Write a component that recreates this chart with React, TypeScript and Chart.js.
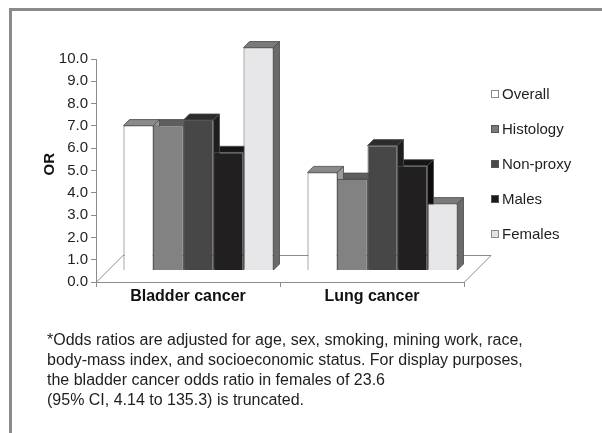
import React, { useEffect, useRef } from "react";
import { Chart, registerables } from "chart.js";

Chart.register(...registerables);

const categories = ["Bladder cancer", "Lung cancer"];
const seriesNames = ["Overall", "Histology", "Non-proxy", "Males", "Females"];
const overall = [6.5, 4.4];
const histology = [6.5, 4.1];
const nonProxy = [6.75, 5.6];
const males = [5.3, 4.7];
const females = [10.0, 3.0];
const seriesValues = [overall, histology, nonProxy, males, females];

const frontColors = ["#ffffff", "#828282", "#474747", "#221f20", "#e7e7e9"];
const topColors = ["#8a8a8a", "#5e5e5e", "#2c2c2c", "#151515", "#7a7a7a"];
const sideColors = ["#9a9a9a", "#5a5a5a", "#1e1e1e", "#0d0d0d", "#6a6a6a"];
const legendBoxColors = ["#ffffff", "#7a7a7a", "#4a4a4a", "#1a1a1a", "#e2e2e4"];

const footnoteLines = [
  "*Odds ratios are adjusted for age, sex, smoking, mining work, race,",
  "body-mass index, and socioeconomic status. For display purposes,",
  "the bladder cancer odds ratio in females of 23.6",
  "(95% CI, 4.14 to 135.3) is truncated.",
];

const FONT = "'Liberation Sans', Arial, Helvetica, sans-serif";
const DEPTH = 6;
const SHIFT_X = 10.5;
const SHIFT_Y = -11.5;
const FLOOR = 27;
const AXIS_COLOR = "#8c8c8c";

const threeD = {
  id: "threeD",
  beforeDatasetsDraw(chart: any) {
    const { ctx, chartArea: a } = chart;
    // floor
    ctx.save();
    ctx.strokeStyle = AXIS_COLOR;
    ctx.lineWidth = 1;
    ctx.beginPath();
    ctx.moveTo(a.left, a.bottom + 0.5);
    ctx.lineTo(a.right, a.bottom + 0.5);
    ctx.lineTo(a.right + FLOOR, a.bottom - FLOOR + 0.5);
    ctx.lineTo(a.left + FLOOR, a.bottom - FLOOR + 0.5);
    ctx.closePath();
    ctx.stroke();
    ctx.restore();

    ctx.save();
    ctx.translate(SHIFT_X, SHIFT_Y);
    const bars: any[] = [];
    chart.data.datasets.forEach((_: any, i: number) => {
      const meta = chart.getDatasetMeta(i);
      meta.data.forEach((el: any) => {
        const p = el.getProps(["x", "y", "base", "width"], true);
        bars.push({ ...p, i });
      });
    });
    ctx.lineWidth = 0.8;
    ctx.strokeStyle = "#4a4a4a";
    // top faces
    bars.forEach((b) => {
      const x0 = b.x - b.width / 2;
      const x1 = b.x + b.width / 2;
      ctx.beginPath();
      ctx.moveTo(x0, b.y);
      ctx.lineTo(x1, b.y);
      ctx.lineTo(x1 + DEPTH, b.y - DEPTH);
      ctx.lineTo(x0 + DEPTH, b.y - DEPTH);
      ctx.closePath();
      ctx.fillStyle = topColors[b.i];
      ctx.fill();
      ctx.stroke();
    });
    // side faces
    bars.forEach((b) => {
      const x1 = b.x + b.width / 2;
      ctx.beginPath();
      ctx.moveTo(x1, b.y);
      ctx.lineTo(x1 + DEPTH, b.y - DEPTH);
      ctx.lineTo(x1 + DEPTH, b.base - DEPTH);
      ctx.lineTo(x1, b.base);
      ctx.closePath();
      ctx.fillStyle = sideColors[b.i];
      ctx.fill();
      ctx.stroke();
    });
  },
  afterDatasetsDraw(chart: any) {
    chart.ctx.restore();
  },
};

const legendPlugin = {
  id: "customLegend",
  afterDraw(chart: any) {
    const { ctx } = chart;
    const boxX = 491;
    const textX = 502;
    const startY = 94;
    const step = 35;
    ctx.save();
    ctx.font = `15px ${FONT}`;
    ctx.textBaseline = "middle";
    ctx.textAlign = "left";
    chart.data.datasets.forEach((ds: any, i: number) => {
      const cy = startY + i * step;
      ctx.fillStyle = legendBoxColors[i];
      ctx.fillRect(boxX, cy - 4, 8, 8);
      ctx.strokeStyle = i === 0 || i === 4 ? "#8a8a8a" : "#555555";
      ctx.lineWidth = 1;
      ctx.strokeRect(boxX + 0.5, cy - 3.5, 7, 7);
      ctx.fillStyle = "#1e1e1e";
      ctx.fillText(ds.label, textX, cy + 1);
    });
    ctx.restore();
  },
};

export default function App() {
  const canvasRef = useRef<HTMLCanvasElement | null>(null);

  useEffect(() => {
    if (!canvasRef.current) return;
    const chart = new Chart(canvasRef.current, {
      type: "bar",
      data: {
        labels: categories,
        datasets: seriesNames.map((name, i) => ({
          label: name,
          data: seriesValues[i],
          backgroundColor: frontColors[i],
          borderColor: "#555555",
          borderWidth: 1,
          categoryPercentage: 150 / 184,
          barPercentage: 1,
          clip: false as any,
        })),
      },
      options: {
        responsive: false,
        devicePixelRatio: 1,
        animation: false,
        layout: { padding: { left: 41, top: 59, right: 138, bottom: 0 } },
        plugins: {
          legend: { display: false },
          tooltip: { enabled: false },
        },
        scales: {
          x: {
            offset: true,
            afterFit: (s: any) => {
              s.height = 151;
            },
            grid: {
              offset: true,
              drawOnChartArea: false,
              drawTicks: true,
              tickLength: 5,
              color: AXIS_COLOR,
            },
            border: { display: true, color: AXIS_COLOR },
            ticks: {
              padding: 0,
              color: "#111111",
              font: { family: FONT, size: 16, weight: "bold" },
            },
          },
          y: {
            min: 0,
            max: 10,
            afterFit: (s: any) => {
              s.width = 55;
            },
            grid: {
              drawOnChartArea: false,
              drawTicks: true,
              tickLength: 5,
              color: AXIS_COLOR,
            },
            border: { display: true, color: AXIS_COLOR },
            ticks: {
              stepSize: 1,
              padding: 3,
              color: "#1e1e1e",
              font: { family: FONT, size: 15 },
              callback: (v: any) => Number(v).toFixed(1),
            },
            title: {
              display: true,
              text: "   OR",
              color: "#111111",
              padding: { top: 0, bottom: 0 },
              font: { family: FONT, size: 15, weight: "bold" },
            },
          },
        },
      },
      plugins: [threeD, legendPlugin],
    });
    return () => chart.destroy();
  }, []);

  return (
    <div
      style={{
        position: "fixed",
        left: 0,
        top: 0,
        width: 602,
        height: 433,
        background: "#ffffff",
        overflow: "hidden",
      }}
    >
      <div
        style={{
          position: "absolute",
          left: 9,
          top: 8,
          width: 620,
          height: 450,
          borderLeft: "3px solid #8a8a8a",
          borderTop: "3px solid #8a8a8a",
        }}
      />
      <canvas
        ref={canvasRef}
        width={602}
        height={433}
        style={{ position: "absolute", left: 0, top: 0, width: 602, height: 433 }}
      />
      <div
        style={{
          position: "absolute",
          left: 47,
          top: 330,
          fontFamily: FONT,
          fontSize: 16,
          lineHeight: "20px",
          color: "#1e1e1e",
          whiteSpace: "nowrap",
        }}
      >
        {footnoteLines.map((line, i) => (
          <div key={i}>{line}</div>
        ))}
      </div>
    </div>
  );
}
